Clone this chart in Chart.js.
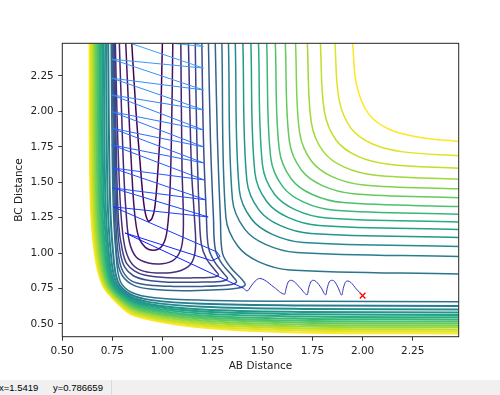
<!DOCTYPE html>
<html>
<head>
<meta charset="utf-8">
<script src="https://cdn.jsdelivr.net/npm/chart.js@4.4.0/dist/chart.umd.min.js"></script>
<style>
  html, body { margin: 0; padding: 0; background: #fff; }
  #wrap { position: relative; width: 500px; height: 380px; }
  #status { position: relative; width: 500px; height: 15px; background: #f0f0f0; overflow: hidden;
            font: 9.5px "Liberation Sans", Arial, sans-serif; color: #000; line-height: 15px; }
  #status span { position: absolute; top: 0; white-space: nowrap; }
  #status .sep { left: 111px; width: 1px; height: 15px; background: #d9d9d9; }
</style>
</head>
<body>
<div id="wrap"><canvas id="pes" width="500" height="380"></canvas></div>
<div id="status"><span style="left:-1px">x=1.5419</span><span style="left:53px">y=0.786659</span><span class="sep"></span></div>
<script>
// axis ticks
const xTicks = [0.5, 0.75, 1.0, 1.25, 1.5, 1.75, 2.0, 2.25];
const yTicks = [0.5, 0.75, 1.0, 1.25, 1.5, 1.75, 2.0, 2.25];

// closed contours in the entrance valley (lowest levels first)
const wellU1 = [[0.847,2.48],[0.868,2.0],[0.889,1.63],[0.903,1.40],[0.915,1.28],[0.93,1.226],[0.948,1.245],[0.962,1.32],[0.976,1.55],[0.99,1.9],[1.0,2.48]];
const wellU2 = [[0.817,2.48],[0.832,2.0],[0.846,1.6],[0.86,1.3],[0.88,1.12],[0.915,1.04],[0.955,1.02],[0.995,1.045],[1.02,1.13],[1.035,1.35],[1.045,1.8],[1.052,2.48]];
const wellU3 = [[0.785,2.48],[0.796,2.0],[0.806,1.6],[0.818,1.3],[0.835,1.08],[0.87,0.97],[0.93,0.93],[1.0,0.925],[1.06,0.955],[1.095,1.04],[1.105,1.2],[1.098,1.6],[1.092,2.48]];
const wellU4 = [[0.765,2.48],[0.773,2.0],[0.782,1.6],[0.792,1.3],[0.81,1.06],[0.84,0.94],[0.89,0.88],[0.97,0.86],[1.07,0.868],[1.14,0.92],[1.165,1.03],[1.16,1.25],[1.145,1.6],[1.13,2.48]];
const tipT1 = [[1.164,2.48],[1.172,1.8],[1.185,1.25],[1.195,1.06],[1.22,0.96],[1.265,0.875],[1.28,0.845],[1.25,0.83],[1.14,0.825],[1.01,0.828],[0.91,0.845],[0.86,0.875],[0.822,0.925],[0.80,1.02],[0.782,1.2],[0.77,1.7],[0.761,2.48]];
const tipT2 = [[1.197,2.48],[1.205,1.8],[1.22,1.25],[1.23,1.04],[1.26,0.94],[1.31,0.85],[1.325,0.82],[1.29,0.80],[1.17,0.795],[1.03,0.795],[0.92,0.81],[0.855,0.84],[0.812,0.90],[0.79,1.0],[0.775,1.2],[0.765,1.7],[0.757,2.48]];
const tipT3 = [[1.23,2.48],[1.24,1.8],[1.255,1.25],[1.265,1.02],[1.30,0.92],[1.355,0.83],[1.37,0.795],[1.33,0.775],[1.2,0.765],[1.05,0.765],[0.93,0.775],[0.85,0.80],[0.803,0.87],[0.781,0.98],[0.768,1.2],[0.76,1.7],[0.753,2.48]];
const tipT4 = [[1.264,2.48],[1.275,1.8],[1.29,1.23],[1.30,1.0],[1.34,0.9],[1.40,0.81],[1.413,0.775],[1.372,0.752],[1.25,0.74],[1.10,0.735],[0.95,0.745],[0.86,0.77],[0.80,0.84],[0.775,0.95],[0.762,1.2],[0.755,1.7],[0.749,2.48]];

// repulsive wall contours (bottom-left band), read at fixed stations
const wallStationY = [2.48, 1.4, 1.0];
const wallStationX = [1.2, 1.7, 2.48];
const wallTopX  = [0.744,0.729,0.718,0.707,0.699,0.691,0.684,0.677,0.670,0.663,0.657,0.650,0.643,0.636];
const wallX140  = [0.753,0.738,0.726,0.715,0.706,0.698,0.690,0.683,0.676,0.669,0.662,0.655,0.648,0.641];
const wallX100  = [0.768,0.754,0.742,0.732,0.724,0.716,0.709,0.702,0.695,0.689,0.682,0.675,0.669,0.662];
const wallKneeAX = [0.790,0.778,0.768,0.759,0.752,0.746,0.740,0.734,0.728,0.723,0.717,0.711,0.706,0.700];
const wallKneeAY = [0.800,0.797,0.795,0.793,0.792,0.790,0.789,0.788,0.786,0.785,0.784,0.783,0.781,0.780];
const wallKneeBX = [0.850,0.839,0.830,0.823,0.817,0.811,0.805,0.800,0.795,0.790,0.785,0.780,0.775,0.770];
const wallKneeBY = [0.720,0.711,0.704,0.698,0.693,0.688,0.684,0.680,0.675,0.671,0.667,0.663,0.659,0.655];
const wallKneeCX = [0.960,0.947,0.936,0.926,0.918,0.911,0.904,0.898,0.891,0.885,0.879,0.873,0.866,0.860];
const wallKneeCY = [0.685,0.668,0.654,0.643,0.633,0.624,0.615,0.607,0.599,0.592,0.584,0.576,0.568,0.560];
const wallY120  = [0.668,0.642,0.621,0.602,0.587,0.573,0.560,0.548,0.536,0.524,0.512,0.499,0.487,0.475];
const wallY170  = [0.660,0.630,0.606,0.585,0.568,0.552,0.537,0.523,0.509,0.495,0.482,0.468,0.454,0.440];
const wallRightY = [0.657,0.627,0.602,0.581,0.563,0.547,0.532,0.517,0.503,0.489,0.476,0.461,0.447,0.433];

// plateau contours (top-right L shapes), same levels as the wall band
const plateauTopX   = [1.297,1.33,1.364,1.402,1.442,1.48,1.521,1.564,1.614,1.665,1.724,1.789,1.862,1.95];
const plateauArmX   = [1.317,1.35,1.384,1.422,1.462,1.50,1.541,1.584,1.634,1.685,1.744,1.809,1.882,1.97];
const plateauArmY   = [1.253,1.376,1.447,1.51,1.567,1.62,1.674,1.728,1.791,1.853,1.921,1.999,2.086,2.187];
const plateauKneeAX = [1.377,1.41,1.444,1.482,1.522,1.56,1.601,1.644,1.694,1.745,1.804,1.869,1.942,2.03];
const plateauKneeAY = [1.048,1.171,1.242,1.305,1.362,1.415,1.469,1.523,1.586,1.648,1.716,1.794,1.881,1.982];
const plateauKneeBX = [1.482,1.515,1.549,1.587,1.627,1.665,1.706,1.749,1.799,1.85,1.909,1.974,2.047,2.135];
const plateauKneeBY = [0.938,1.061,1.132,1.195,1.252,1.305,1.359,1.413,1.476,1.538,1.606,1.684,1.771,1.872];
const plateauTailX  = [1.637,1.67,1.704,1.742,1.782,1.82,1.861,1.904,1.954,2.005,2.064,2.129,2.202,2.29];
const plateauTailY  = [0.881,1.004,1.075,1.138,1.195,1.248,1.302,1.356,1.419,1.481,1.549,1.627,1.714,1.815];
const plateauRightY = [0.853,0.976,1.047,1.11,1.167,1.22,1.274,1.328,1.391,1.453,1.521,1.599,1.686,1.787];

// trajectory: vibrating approach down the entrance valley...
const entranceX = [0.747,1.205,0.747,1.205,0.747,1.205,0.747,1.205,0.747,1.205,0.747,1.206,0.747,1.206,0.747,1.2085,0.7485,1.2185,0.751,1.2285,0.755,1.272,1.2885,1.2485,0.8135,1.405];
const entranceY = [2.681,2.457,2.525,2.305,2.368,2.151,2.234,2.010,2.116,1.869,1.998,1.749,1.881,1.636,1.763,1.516,1.601,1.375,1.460,1.255,1.326,1.008,0.976,0.945,1.142,0.752];
// ...and out along the product valley
const exitX = [1.405,1.4235,1.4435,1.4635,1.486,1.5085,1.5585,1.611,1.6185,1.6285,1.6435,1.6585,1.6885,1.7235,1.731,1.741,1.7535,1.7685,1.7935,1.816,1.8235,1.8335,1.846,1.861,1.8785,1.896,1.9035,1.9135,1.926,1.941,1.9685,2.0];
const exitY = [0.752,0.733,0.768,0.803,0.821,0.811,0.758,0.710,0.754,0.796,0.808,0.798,0.754,0.706,0.754,0.796,0.808,0.798,0.754,0.705,0.754,0.796,0.808,0.798,0.754,0.703,0.751,0.793,0.803,0.793,0.747,0.70];
const endPoint = [2.0, 0.70];

const viridis = ['#440154','#482475','#414487','#355f8d','#2a788e','#21918c','#22a884','#44bf70','#7ad151','#bddf26','#fde725'];
const topLevel = 21;

function rgb(h) {
  return [parseInt(h.slice(1, 3), 16), parseInt(h.slice(3, 5), 16), parseInt(h.slice(5, 7), 16)];
}
function mix(a, b, f) {
  return 'rgb(' + a.map((v, i) => Math.round(v + (b[i] - v) * f)).join(',') + ')';
}
function levelColor(level) {
  const p = (level / topLevel) * (viridis.length - 1);
  const i = Math.min(viridis.length - 2, Math.floor(p));
  return mix(rgb(viridis[i]), rgb(viridis[i + 1]), p - i);
}

const datasets = [];
function contour(pts, level, width) {
  datasets.push({
    data: pts.map(p => ({x: p[0], y: p[1]})),
    showLine: true,
    borderColor: levelColor(level),
    borderWidth: width || 1.5,
    pointRadius: 0,
    tension: 0.35,
    order: 5
  });
}

[wellU1, wellU2, wellU3, wellU4, tipT1, tipT2, tipT3, tipT4].forEach((l, i) => contour(l, i));

for (let k = 0; k < wallTopX.length; k++) {
  contour([
    [wallTopX[k], wallStationY[0]], [wallX140[k], wallStationY[1]], [wallX100[k], wallStationY[2]],
    [wallKneeAX[k], wallKneeAY[k]], [wallKneeBX[k], wallKneeBY[k]], [wallKneeCX[k], wallKneeCY[k]],
    [wallStationX[0], wallY120[k]], [wallStationX[1], wallY170[k]], [wallStationX[2], wallRightY[k]]
  ], 8 + k, k === 0 ? 1.5 : 2);
}
for (let k = 0; k < plateauTopX.length; k++) {
  contour([
    [plateauTopX[k], 2.48], [plateauArmX[k], plateauArmY[k]], [plateauKneeAX[k], plateauKneeAY[k]],
    [plateauKneeBX[k], plateauKneeBY[k]], [plateauTailX[k], plateauTailY[k]], [2.48, plateauRightY[k]]
  ], 8 + k);
}

const lightBlue = [66, 168, 245], midBlue = [34, 96, 255], deepBlue = [12, 24, 255];
datasets.push({
  data: entranceX.map((x, i) => ({x, y: entranceY[i]})),
  showLine: true,
  borderWidth: 1,
  pointRadius: 0,
  tension: 0,
  order: 1,
  borderColor: 'rgb(34,96,255)',
  segment: {
    borderColor: c => {
      const t = c.p0DataIndex / (entranceX.length - 1);
      return t < 0.55 ? mix(lightBlue, midBlue, t / 0.55) : mix(midBlue, deepBlue, (t - 0.55) / 0.45);
    }
  }
});
datasets.push({
  data: exitX.map((x, i) => ({x, y: exitY[i]})),
  showLine: true,
  borderColor: '#3030c0',
  borderWidth: 1,
  pointRadius: 0,
  cubicInterpolationMode: 'monotone',
  order: 1
});
datasets.push({
  data: [{x: endPoint[0], y: endPoint[1]}],
  pointStyle: 'crossRot',
  pointRadius: 4,
  borderColor: '#ff0000',
  borderWidth: 1.3,
  order: 0
});

const frame = {
  id: 'frame',
  afterDatasetsDraw(chart) {
    const {ctx, chartArea: a} = chart;
    ctx.save();
    ctx.strokeStyle = '#262626';
    ctx.lineWidth = 1;
    ctx.strokeRect(a.left, a.top, a.right - a.left, a.bottom - a.top);
    ctx.restore();
  }
};

const labelFont = {family: 'DejaVu Sans', size: 10.5};

new Chart(document.getElementById('pes'), {
  type: 'scatter',
  data: {datasets},
  options: {
    responsive: false,
    animation: false,
    events: [],
    layout: {padding: {top: 43.3, right: 41.3, left: 0, bottom: 0}},
    plugins: {legend: {display: false}, tooltip: {enabled: false}},
    scales: {
      x: {
        type: 'linear', min: 0.5, max: 2.48,
        afterBuildTicks: s => { s.ticks = xTicks.map(v => ({value: v})); },
        afterFit: s => { s.height = 43.3; },
        ticks: {callback: v => v.toFixed(2), font: labelFont, color: '#222', padding: 4, maxRotation: 0, autoSkip: false},
        grid: {display: true, drawOnChartArea: false, drawTicks: true, tickLength: 4, color: '#333'},
        border: {display: false},
        title: {display: true, text: 'AB Distance', font: labelFont, color: '#222', padding: {top: 0, bottom: 7.7}}
      },
      y: {
        type: 'linear', min: 0.41, max: 2.48,
        afterBuildTicks: s => { s.ticks = yTicks.map(v => ({value: v})); },
        afterFit: s => { s.width = 62.3; },
        ticks: {callback: v => v.toFixed(2), font: labelFont, color: '#222', padding: 4.5, autoSkip: false},
        grid: {display: true, drawOnChartArea: false, drawTicks: true, tickLength: 4, color: '#333'},
        border: {display: false},
        title: {display: true, text: 'BC Distance', font: labelFont, color: '#222', padding: {top: 12.7, bottom: 0}}
      }
    }
  },
  plugins: [frame]
});
</script>
</body>
</html>
